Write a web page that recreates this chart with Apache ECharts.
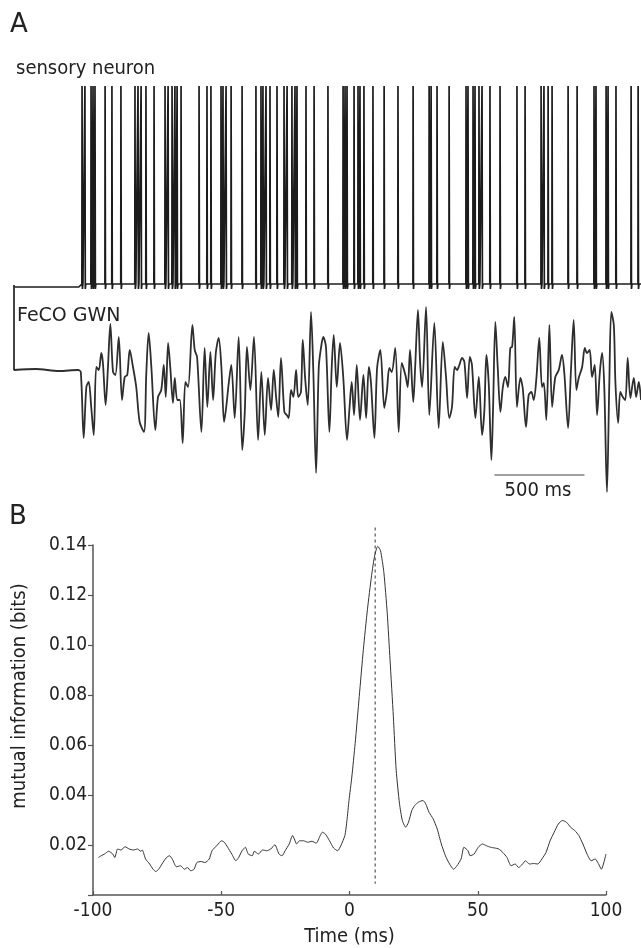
<!DOCTYPE html>
<html>
<head>
<meta charset="utf-8">
<script src="https://cdn.jsdelivr.net/npm/echarts@6/dist/echarts.min.js"></script>
<style>
html,body{margin:0;padding:0;background:#fff;}
#chart{width:641px;height:948px;}
</style>
</head>
<body>
<div id="chart"></div>
<script>
// ---------- Panel A: sensory neuron spike train (time in ms) ----------
const spikeTimes = [378,394,428,439,450,506,544,594,672,689,706,733,778,839,856,878,894,906,928,
  1028,1072,1094,1150,1161,1178,1206,1267,1344,1372,1383,1400,1422,1461,1500,1517,1544,1561,1572,
  1622,1667,1744,1828,1839,1850,1889,1911,1922,1944,1994,2056,2133,2217,2306,2317,2350,2417,
  2511,2522,2550,2561,2583,2600,2644,2700,2794,2839,2928,2944,2967,2989,3078,3128,3222,3233,
  3289,3300,3344,3428,3467];
const spikePeak = 199;
const spikeBaseTime  = [0, 360, 3483];
const spikeBaseValue = [-2, -2, 1];
const spikeRestLevel = 1;

// ---------- Panel A: FeCO GWN stimulus ----------
const gwnTime = [0,0,120,250,356,371,387,402,415,429,443,457,471,485,494,509,522,535,550,563,582,600,615,629,643,661,679,698,722,735,748,763,785,800,818,832,843,856,868,883,893,907,921,937,952,967,991,1004,1017,1041,1059,1074,1091,1106,1121,1137,1152,1167,1179,1193,1207,1226,1248,1268,1282,1294,1313,1333,1356,1374,1393,1411,
  1428,1443,1456,1468,1483,1502,1515,1526,1539,1552,1567,1579,1594,1604,1618,1632,1650,1663,1678,1693,1706,1718,1733,1752,1765,1776,1793,1811,1829,1850,1863,1876,1889,1904,1922,1941,1956,1971,1983,2002,2017,2035,2057,2071,2085,2098,2118,2137,2154,2174,2187,2200,2218,2229,2244,2256,2267,2289,2307,2335,2359,2382,2400,2418,
  2433,2448,2461,2474,2489,2502,2517,2532,2544,2563,2582,2600,2613,2624,2637,2652,2661,2674,2687,2702,2715,2729,2744,2757,2767,2779,2794,2813,2826,2844,2859,2874,2887,2902,2918,2933,2943,2957,2974,2989,3007,3026,3044,3057,3078,3094,3109,3124,3137,3156,3171,3183,3198,3211,3226,3239,3254,3267,3279,3294,3307,3318,3332,3341,3356,3368,3382,3396,3409,3424,3443,3456,3471,3483];
const gwnValue = [85,0,1,-1,0,-2,-68,-17,-12,-37,-65,3,0,17,7,-35,3,46,-2,-5,33,-30,-7,-5,20,3,-17,-52,-62,-3,37,3,-60,-27,-20,5,-27,27,3,-33,-8,-30,-30,-73,-12,-17,45,20,13,-62,22,-37,18,-30,17,32,3,-52,-37,-13,5,-48,33,-80,-42,23,-20,33,-70,-2,-65,-8,
  -40,0,-27,-47,12,-42,-45,-48,-20,-27,0,-27,-22,30,-10,-35,58,-3,-103,3,23,33,23,-62,3,35,-17,27,-7,-70,-40,-12,-45,5,-50,-5,-48,3,-13,-68,2,20,-38,-22,2,-2,22,-62,7,-5,-17,20,-32,5,60,7,-17,63,-45,47,-58,28,-7,-48,
  -37,3,0,5,12,8,-28,13,5,-48,-7,-65,-40,15,-13,-90,-40,48,3,-42,-18,-7,-17,22,23,53,-37,-8,-18,-57,-25,-22,-30,-8,32,-17,-13,-50,45,-37,-7,0,15,-3,-58,0,50,-20,-8,3,22,17,20,-7,5,-45,-3,17,-17,-122,-13,58,45,-13,-53,-22,-27,-30,12,-28,-8,-27,-12,-30];
const scaleBarTime = [2669, 3169];   // 500 ms
const scaleBarLevel = -105;

// ---------- Panel B: mutual information ----------
const miTime = [-97.9,-96.8,-95.5,-93.9,-92.3,-91.5,-90.4,-89.1,-87.5,-85.9,-84.3,-82.7,-81.4,-80.8,-79.5,-77.9,-76.6,-75.5,-74.4,-73.1,-71.5,-70.2,-69.1,-67.5,-65.9,-64.3,-63.2,-61.9,-60.6,-59.5,-57.9,-56.3,-54.7,-53.6,-51.5,-49.9,-48.8,-47.5,-45.9,-44.3,-43.2,-41.9,-40.6,-39.5,-37.9,-37.1,-35.5,-33.9,-32.3,-30.7,-29.1,-27.5,-26.3,-25.1,-23.5,-22.2,-21.5,-20.6,-19.5,-17.9,-16.3,-14.6,-13.0,-11.4,-10.6,-9.4,-7.8,-6.2,-4.6,-3.4,-1.8,-1.0,-0.2,0.9,2.2,3.8,5.4,7.0,8.6,9.8,11.0,12.1,13.4,14.7,15.8,17.1,18.2,19.5,20.6,21.9,23.0,24.3,25.4,27.0,28.6,29.7,31.0,32.6,34.2,35.8,37.4,39.0,40.6,41.9,43.5,44.6,46.2,47.0,48.6,50.2,51.8,53.4,55.0,56.6,58.2,59.8,61.4,63.0,64.6,65.9,67.5,68.6,70.2,71.8,73.4,75.0,76.6,78.2,79.8,81.4,83.0,84.6,86.2,87.8,89.4,91.0,92.6,94.2,95.8,97.0,98.2,99.0,100];
const miValue = [0.0150,0.0157,0.0164,0.0175,0.0164,0.0150,0.0184,0.0180,0.0193,0.0184,0.0180,0.0184,0.0175,0.0180,0.0144,0.0124,0.0103,0.0094,0.0103,0.0124,0.0148,0.0157,0.0144,0.0113,0.0117,0.0103,0.0110,0.0097,0.0103,0.0130,0.0134,0.0130,0.0144,0.0177,0.0200,0.0217,0.0211,0.0191,0.0164,0.0137,0.0150,0.0177,0.0191,0.0164,0.0157,0.0175,0.0164,0.0180,0.0177,0.0184,0.0201,0.0164,0.0157,0.0177,0.0204,0.0238,0.0224,0.0204,0.0217,0.0217,0.0211,0.0215,0.0207,0.0238,0.0251,0.0244,0.0217,0.0188,0.0177,0.0197,0.0238,0.0298,0.0378,0.0472,0.0606,0.0794,0.0982,0.1143,0.1277,0.1357,0.1395,0.1377,0.1290,0.1129,0.0941,0.0713,0.0499,0.0365,0.0298,0.0271,0.0291,0.0338,0.0358,0.0372,0.0378,0.0365,0.0331,0.0305,0.0264,0.0204,0.0157,0.0124,0.0103,0.0117,0.0144,0.0191,0.0177,0.0157,0.0164,0.0191,0.0204,0.0197,0.0191,0.0188,0.0184,0.0170,0.0150,0.0117,0.0124,0.0110,0.0124,0.0137,0.0124,0.0126,0.0124,0.0144,0.0170,0.0217,0.0251,0.0284,0.0298,0.0291,0.0271,0.0258,0.0238,0.0204,0.0164,0.0137,0.0144,0.0126,0.0103,0.0124,0.0164];
const peakLagTime = 10;
const peakLagSpan = [0.147, 0.0045];
const miTicks = [-100, -50, 0, 50, 100];

// ---------- build series data ----------
const spikeData = [];
spikeBaseTime.forEach((t, i) => spikeData.push([t, spikeBaseValue[i]]));
spikeTimes.forEach(t => {
  const b = spikeRestLevel;
  spikeData.push([t - 1, b], [t, spikePeak], [t + 2, b - 5], [t + 5, b]);
});
spikeData.sort((a, b) => a[0] - b[0]);

const gwnData = gwnTime.map((t, i) => [t, gwnValue[i]]);
const miData = miTime.map((t, i) => [t, miValue[i]]);

const FONT = "'DejaVu Sans Condensed', 'DejaVu Sans', sans-serif";
const TXT = '#222';

const chart = echarts.init(document.getElementById('chart'), null, {renderer: 'canvas'});
chart.setOption({
  animation: false,
  backgroundColor: '#fff',
  textStyle: {fontFamily: FONT, color: TXT},
  grid: [
    {left: 14, top: 80, width: 627, height: 210},
    {left: 14, top: 280, width: 627, height: 220},
    {left: 93, top: 545, width: 513, height: 350}
  ],
  xAxis: [
    {gridIndex: 0, type: 'value', min: 0, max: 3483, show: false},
    {gridIndex: 1, type: 'value', min: 0, max: 3483, show: false},
    {gridIndex: 2, type: 'value', min: -100, max: 100, interval: 50,
     axisLine: {lineStyle: {color: '#555', width: 1.5}},
     axisTick: {inside: true, length: 4, lineStyle: {color: '#555', width: 1.2}},
     splitLine: {show: false},
     axisLabel: {color: TXT, fontFamily: FONT, fontSize: 19, margin: 7,
       formatter: v => miTicks.includes(v) ? String(v) : ''},
     name: 'Time (ms)', nameLocation: 'middle', nameGap: 32,
     nameTextStyle: {color: TXT, fontFamily: FONT, fontSize: 20}}
  ],
  yAxis: [
    {gridIndex: 0, type: 'value', min: -5, max: 205, show: false},
    {gridIndex: 1, type: 'value', min: -130, max: 90, show: false},
    {gridIndex: 2, type: 'value', min: 0, max: 0.14, interval: 0.02,
     axisLine: {show: true, onZero: false, lineStyle: {color: '#555', width: 1.5}},
     axisTick: {show: true, length: 5, lineStyle: {color: '#555', width: 1.2}},
     splitLine: {show: false},
     axisLabel: {color: TXT, fontFamily: FONT, fontSize: 19, margin: 6,
       formatter: v => v === 0 ? '' : v.toFixed(2)}}
  ],
  series: [
    {type: 'line', xAxisIndex: 0, yAxisIndex: 0, data: spikeData, showSymbol: false, silent: true,
     lineStyle: {color: '#1c1c1c', width: 1.7}},
    {type: 'line', xAxisIndex: 1, yAxisIndex: 1, data: gwnData, showSymbol: false, silent: true,
     smooth: 0.3, lineStyle: {color: '#2e2e2e', width: 1.8}},
    {type: 'line', xAxisIndex: 1, yAxisIndex: 1, data: scaleBarTime.map(t => [t, scaleBarLevel]),
     showSymbol: false, silent: true, lineStyle: {color: '#444', width: 1.2}},
    {type: 'line', xAxisIndex: 2, yAxisIndex: 2, data: miData, showSymbol: false, silent: true,
     smooth: 0.2, lineStyle: {color: '#333', width: 1}},
    {type: 'line', xAxisIndex: 2, yAxisIndex: 2, clip: false, showSymbol: false, silent: true,
     data: peakLagSpan.map(v => [peakLagTime, v]),
     lineStyle: {color: '#333', width: 1, type: [3, 3]}}
  ],
  graphic: [
    {type: 'text', x: 10, y: 25, style: {text: 'A', fontSize: 26, fontFamily: "'DejaVu Sans', sans-serif", fill: TXT, textAlign: 'left', textVerticalAlign: 'middle', align: 'left', verticalAlign: 'middle'}},
    {type: 'text', x: 16, y: 69, style: {text: 'sensory neuron', fontSize: 20, fontFamily: FONT, fill: TXT, textAlign: 'left', textVerticalAlign: 'middle', align: 'left', verticalAlign: 'middle'}},
    {type: 'text', x: 17, y: 316, style: {text: 'FeCO GWN', fontSize: 19, fontFamily: "'DejaVu Sans', sans-serif", fill: TXT, textAlign: 'left', textVerticalAlign: 'middle', align: 'left', verticalAlign: 'middle'}},
    {type: 'text', x: 538, y: 491, style: {text: '500 ms', fontSize: 20, fontFamily: FONT, fill: TXT, textAlign: 'center', textVerticalAlign: 'middle', align: 'center', verticalAlign: 'middle'}},
    {type: 'text', x: 9, y: 517, style: {text: 'B', fontSize: 26, fontFamily: "'DejaVu Sans', sans-serif", fill: TXT, textAlign: 'left', textVerticalAlign: 'middle', align: 'left', verticalAlign: 'middle'}},
    {type: 'text', x: 20, y: 696, rotation: Math.PI / 2, style: {text: 'mutual information (bits)', fontSize: 20, fontFamily: FONT, fill: TXT, textAlign: 'center', textVerticalAlign: 'middle', align: 'center', verticalAlign: 'middle'}}
  ]
});
</script>
</body>
</html>
